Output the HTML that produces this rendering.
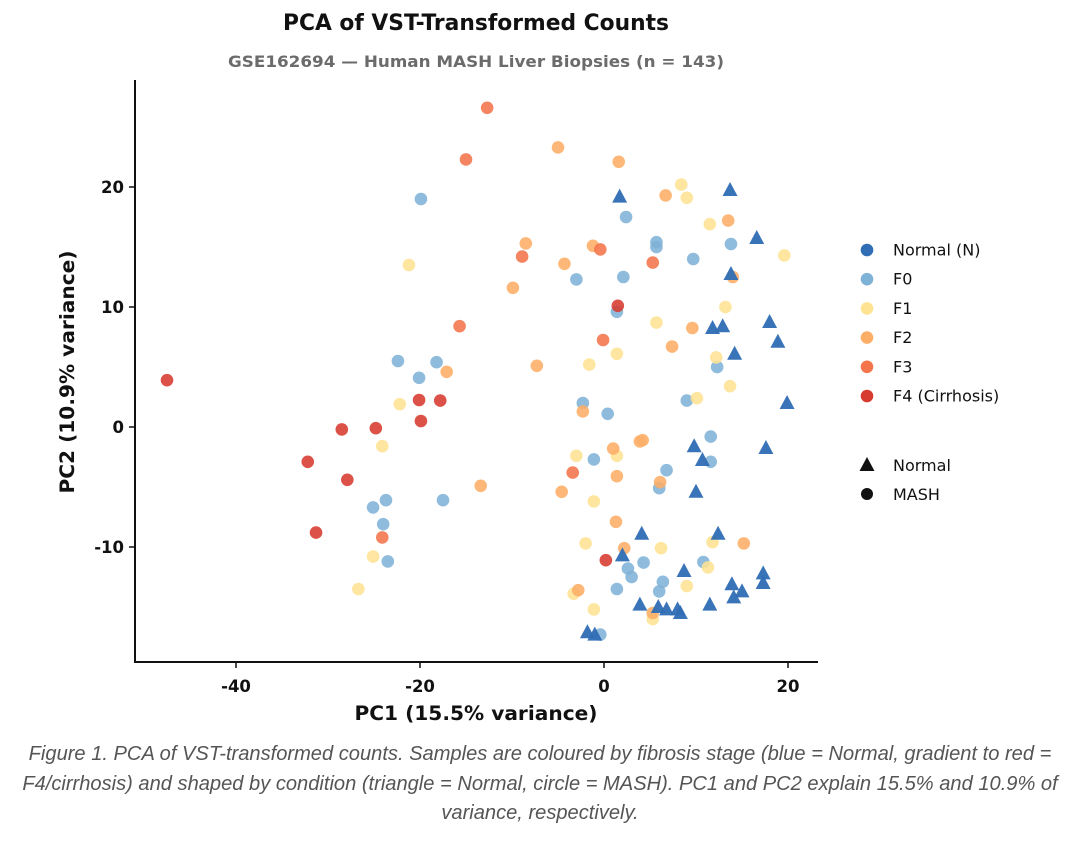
<!DOCTYPE html>
<html><head><meta charset="utf-8"><style>
body{margin:0;background:#fff;width:1080px;height:843px;overflow:hidden;font-family:"DejaVu Sans","Liberation Sans",sans-serif}
.cap{position:absolute;left:0px;width:1080px;top:740px;text-align:center;font-family:"Liberation Sans",sans-serif;font-style:italic;font-size:20.1px;line-height:29.5px;color:#555}
</style></head><body>
<svg width="1080" height="843" style="position:absolute;left:0;top:0;font-family:'DejaVu Sans',sans-serif">
<text x="476" y="30" text-anchor="middle" font-size="22" textLength="386" lengthAdjust="spacingAndGlyphs" font-weight="bold" fill="#111">PCA of VST-Transformed Counts</text>
<text x="476" y="67" text-anchor="middle" font-size="16" textLength="496" lengthAdjust="spacingAndGlyphs" font-weight="bold" fill="#6b6b6b">GSE162694 — Human MASH Liver Biopsies (n = 143)</text>
<g id="axes"></g>
<g id="marks"></g>
<text x="476" y="720" text-anchor="middle" font-size="19.5" textLength="243" lengthAdjust="spacingAndGlyphs" font-weight="bold" fill="#111">PC1 (15.5% variance)</text>
<text transform="translate(74,372) rotate(-90)" text-anchor="middle" font-size="19.5" textLength="243" lengthAdjust="spacingAndGlyphs" font-weight="bold" fill="#111">PC2 (10.9% variance)</text>
<g id="legend"></g>
</svg>
<div class="cap">Figure 1. PCA of VST-transformed counts. Samples are coloured by fibrosis stage (blue = Normal, gradient to red = F4/cirrhosis) and shaped by condition (triangle = Normal, circle = MASH). PC1 and PC2 explain 15.5% and 10.9% of variance, respectively.</div>
<script>
const groups=["Normal (N)","F0","F1","F2","F3","F4 (Cirrhosis)"];
const colors=["#2f6db4","#7fb2d7","#fee393","#fdae66","#f4744b","#d73a2f"];
const xTicks=[-40,-20,0,20];
const yTicks=[-10,0,10,20];
const normalX=[1.7,13.7,16.6,13.8,11.8,12.9,18.0,18.9,14.2,19.9,9.8,17.6,10.7,10.0,4.1,12.4,2.0,8.7,17.3,17.3,13.9,15.0,14.1,3.9,5.9,6.8,8.0,8.3,11.5,-1.8,-1.0];
const normalY=[19.2,19.75,15.75,12.75,8.25,8.4,8.75,7.1,6.1,2.0,-1.6,-1.75,-2.75,-5.4,-8.9,-8.9,-10.7,-12.0,-12.2,-13.0,-13.1,-13.7,-14.2,-14.8,-15.0,-15.2,-15.2,-15.5,-14.8,-17.1,-17.3];
const f0X=[2.4,5.7,5.7,13.8,9.7,-3.0,2.1,1.4,12.3,-2.3,0.4,9.0,11.6,-1.1,11.6,6.8,6.0,4.3,2.6,3.0,10.8,6.4,6.0,1.4,-0.4,-19.9,-22.4,-18.2,-20.1,-25.1,-23.7,-24.0,-23.5,-17.5];
const f0Y=[17.5,15.4,15.0,15.25,14.0,12.3,12.5,9.6,5.0,2.0,1.1,2.2,-0.8,-2.7,-2.9,-3.6,-5.1,-11.3,-11.8,-12.5,-11.25,-12.9,-13.7,-13.5,-17.3,19.0,5.5,5.4,4.1,-6.7,-6.1,-8.1,-11.2,-6.1];
const f1X=[8.4,9.0,11.5,19.6,13.2,5.7,1.4,-1.6,12.2,13.7,10.1,-3.0,1.4,-1.1,-2.0,6.2,11.8,11.3,9.0,-3.3,-1.1,5.3,-21.2,-22.2,-24.1,-25.1,-26.7];
const f1Y=[20.2,19.1,16.9,14.3,10.0,8.7,6.1,5.2,5.8,3.4,2.4,-2.4,-2.4,-6.2,-9.7,-10.1,-9.6,-11.7,-13.25,-13.9,-15.2,-16.0,13.5,1.9,-1.6,-10.8,-13.5];
const f2X=[-5.0,1.6,6.7,13.5,-1.2,-4.3,14.0,9.6,7.4,-2.3,3.9,4.2,1.0,1.4,-4.6,1.3,2.2,15.2,6.1,-2.8,5.3,-8.5,-9.9,-17.1,-7.3,-13.4];
const f2Y=[23.3,22.1,19.3,17.2,15.1,13.6,12.5,8.25,6.7,1.3,-1.2,-1.1,-1.8,-4.1,-5.4,-7.9,-10.1,-9.7,-4.6,-13.6,-15.5,15.3,11.6,4.6,5.1,-4.9];
const f3X=[-0.4,5.3,-0.1,-3.4,-12.7,-15.0,-8.9,-15.7,-24.1];
const f3Y=[14.8,13.7,7.25,-3.8,26.6,22.3,14.2,8.4,-9.2];
const f4X=[1.5,0.2,-47.5,-20.1,-17.8,-19.9,-24.8,-28.5,-32.2,-27.9,-31.3];
const f4Y=[10.1,-11.1,3.9,2.25,2.2,0.5,-0.1,-0.2,-2.9,-4.4,-8.8];

const NS="http://www.w3.org/2000/svg";
const L=135,R=818,T=80,B=662;
function sx(v){return 604+v*9.2;}
function sy(v){return 427-v*12;}
function mk(tag,attrs,parent){const e=document.createElementNS(NS,tag);for(const k in attrs)e.setAttribute(k,attrs[k]);parent.appendChild(e);return e;}
const ax=document.getElementById('axes');
let e=mk('line',{x1:L,y1:T,x2:L,y2:B+1,stroke:'#111','stroke-width':2},ax);


e=mk('line',{x1:L-1,y1:B,x2:R,y2:B,stroke:'#111','stroke-width':2},ax);


xTicks.forEach(v=>{
  mk('line',{x1:sx(v),y1:B,x2:sx(v),y2:B+6,stroke:'#111','stroke-width':1.5},ax);
  const t=mk('text',{x:sx(v),y:B+30,'text-anchor':'middle','font-size':16.5,'font-weight':'bold',fill:'#111'},ax);
  t.textContent=v;
  
  
});
yTicks.forEach(v=>{
  mk('line',{x1:L-6,y1:sy(v),x2:L,y2:sy(v),stroke:'#111','stroke-width':1.5},ax);
  const t=mk('text',{x:L-11,y:sy(v)+6,'text-anchor':'end','font-size':16.5,'font-weight':'bold',fill:'#111'},ax);
  t.textContent=v;
  
  
});
const mg=document.getElementById('marks');
const circ=[[f0X,f0Y,1],[f1X,f1Y,2],[f2X,f2Y,3],[f3X,f3Y,4],[f4X,f4Y,5]];
circ.forEach(([xs,ys,ci])=>{
  xs.forEach((x,i)=>{
    const c=mk('circle',{cx:sx(x),cy:sy(ys[i]),r:6.3,fill:colors[ci],'fill-opacity':0.88},mg);
    
    
  });
});
normalX.forEach((x,i)=>{
  const cx=sx(x),cy=sy(normalY[i]);
  const p=mk('polygon',{points:`${cx},${cy-8} ${cx-7.5},${cy+6} ${cx+7.5},${cy+6}`,fill:colors[0],'fill-opacity':0.95},mg);
  
  
});
const lg=document.getElementById('legend');
groups.forEach((g,i)=>{
  const y=250+i*29.2;
  const c=mk('circle',{cx:867,cy:y,r:6.3,fill:colors[i]},lg);
  
  
  const t=mk('text',{x:893,y:y+5.5,'font-size':16,fill:'#111'},lg);
  t.textContent=g;
  
  
});
let p=mk('polygon',{points:'867,457 859.5,471 874.5,471',fill:'#111'},lg);


let t=mk('text',{x:893,y:471,'font-size':16,fill:'#111'},lg);t.textContent='Normal';


let c=mk('circle',{cx:867,cy:494,r:6,fill:'#111'},lg);


t=mk('text',{x:893,y:500,'font-size':16,fill:'#111'},lg);t.textContent='MASH';


</script>
</body></html>
